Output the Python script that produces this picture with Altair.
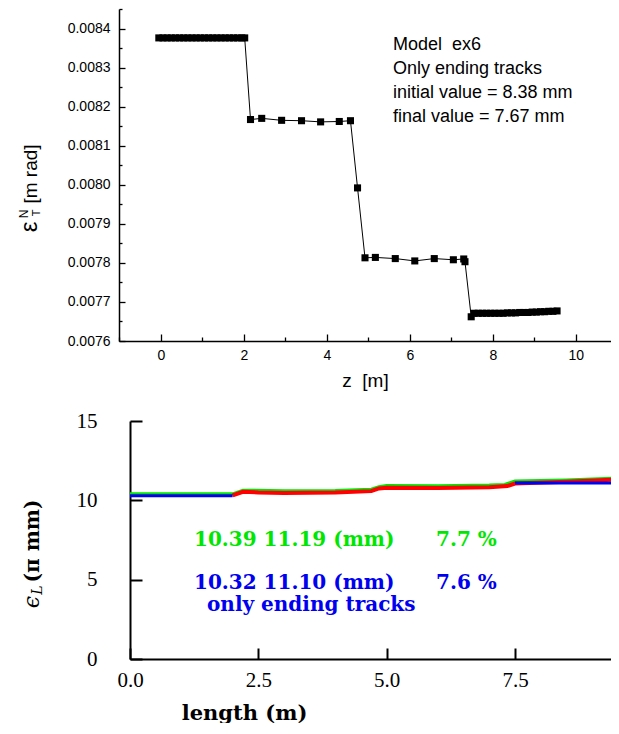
import altair as alt
import pandas as pd

# ---------------- top panel data (z [m], emittance [m rad]) ----------------
top_z = [-0.05, 0.05, 0.15, 0.25, 0.35, 0.45, 0.55, 0.65, 0.75, 0.85, 0.95,
         1.05, 1.15, 1.25, 1.35, 1.45, 1.55, 1.65, 1.75, 1.85, 1.95, 2.02,
         2.16, 2.43, 2.91, 3.39, 3.85, 4.30, 4.57,
         4.74,
         4.92, 5.17, 5.65, 6.12, 6.59, 7.05, 7.30, 7.33,
         7.48,
         7.55, 7.65, 7.75, 7.85, 7.95, 8.05, 8.15, 8.25, 8.35, 8.45, 8.55,
         8.65, 8.75, 8.85, 8.95, 9.05, 9.15, 9.25, 9.35, 9.45, 9.55]
top_eps = [0.008376, 0.008376, 0.008376, 0.008376, 0.008376, 0.008376, 0.008376, 0.008376, 0.008376, 0.008376, 0.008376,
           0.008376, 0.008376, 0.008376, 0.008376, 0.008376, 0.008376, 0.008376, 0.008376, 0.008376, 0.008376, 0.008376,
           0.008167, 0.008170, 0.008165, 0.008164, 0.008161, 0.008162, 0.008164,
           0.007992,
           0.007813, 0.007814, 0.007811, 0.007805, 0.007811, 0.007808, 0.007810, 0.007803,
           0.007662,
           0.007671, 0.007671, 0.007671, 0.007671, 0.007671, 0.007671, 0.007671, 0.007671, 0.007672, 0.007672, 0.007672,
           0.007673, 0.007673, 0.007673, 0.007674, 0.007674, 0.007675, 0.007675, 0.007676, 0.007676, 0.007677]

top_x_major = [0, 2, 4, 6, 8, 10]
top_x_minor = [-1, 1, 3, 5, 7, 9]
top_y_major = [0.0076, 0.0077, 0.0078, 0.0079, 0.0080, 0.0081, 0.0082, 0.0083, 0.0084]
top_y_minor = [0.00765, 0.00775, 0.00785, 0.00795, 0.00805, 0.00815, 0.00825, 0.00835, 0.00845]

top_notes = ["Model\u00a0\u00a0ex6", "Only ending tracks", "initial value = 8.38 mm", "final value = 7.67 mm"]
top_notes_y = [41, 65, 89, 113]

# ---------------- bottom panel data (length [m], eps_L [pi mm]) ----------------
green_len = [0.0, 2.0, 2.2, 2.4, 3.0, 4.0, 4.7, 4.85, 5.0, 6.0, 7.0, 7.3, 7.5, 8.5, 9.5]
green_eps = [10.41, 10.41, 10.64, 10.64, 10.60, 10.62, 10.70, 10.86, 10.94, 10.92, 10.96, 11.00, 11.22, 11.28, 11.40]
red_len = [2.0, 2.2, 2.5, 3.0, 4.0, 4.7, 4.85, 5.0, 6.0, 7.0, 7.35, 7.5, 8.5, 9.5]
red_eps = [10.31, 10.54, 10.50, 10.47, 10.50, 10.58, 10.75, 10.80, 10.77, 10.83, 10.90, 11.06, 11.17, 11.32]
blue_len = [0.0, 2.0, 7.5, 9.5]
blue_eps = [10.29, 10.29, 11.10, 11.10]
blue_seg = [1, 1, 2, 2]

bot_x_ticks = [0, 2.5, 5, 7.5]
bot_y_ticks = [0, 5, 10, 15]

GREEN = "#00e600"
BLUE = "#0000f0"
RED = "#ff0000"

bot_notes = ["10.39 11.19 (mm)", "7.7 %", "10.32 11.10 (mm)", "7.6 %", "only ending tracks"]
bot_notes_x = [75, 317, 75, 317, 88]
bot_notes_y = [125, 125, 168, 168, 190]
bot_notes_c = [GREEN, GREEN, BLUE, BLUE, BLUE]

one = pd.DataFrame({"k": [0]})


def txt(t, x, y, **kw):
    return alt.Chart(one).mark_text(text=t, **kw).encode(x=alt.value(x), y=alt.value(y))


# ---------------- top chart ----------------
top_df = pd.DataFrame({"z": top_z, "eps": top_eps})
xs_top = alt.Scale(domain=[-1.01, 10.85], nice=False, zero=False)
ys_top = alt.Scale(domain=[0.0076, 0.00845], nice=False, zero=False)

SANS = "Liberation Sans"

top_line = alt.Chart(top_df).mark_line(color="black", strokeWidth=1).encode(
    x=alt.X("z:Q", scale=xs_top, axis=alt.Axis(
        orient="bottom", values=top_x_major, tickSize=alt.ExprRef("-7"), tickWidth=1.3,
        labelPadding=14, labelFont=SANS, labelFontSize=14, labelFlush=False,
        domainWidth=1.5, title="z\u00a0\u00a0[m]", titleFont=SANS, titleFontSize=19,
        titleFontWeight="normal", titlePadding=9)),
    y=alt.Y("eps:Q", scale=ys_top, axis=alt.Axis(
        orient="left", values=top_y_major, format=".4f", tickSize=alt.ExprRef("-6"), tickWidth=1.3,
        labelPadding=15, labelFont=SANS, labelFontSize=14, labelFlush=False,
        domainWidth=1.5, title=None)),
)
top_pts = alt.Chart(top_df).mark_square(size=50, color="black", opacity=1).encode(
    x=alt.X("z:Q", scale=xs_top, axis=alt.Axis(
        orient="bottom", values=top_x_minor, tickSize=alt.ExprRef("-4"), tickWidth=1.3,
        labels=False, domain=False, title=None)),
    y=alt.Y("eps:Q", scale=ys_top, axis=alt.Axis(
        orient="left", values=top_y_minor, tickSize=alt.ExprRef("-3"), tickWidth=1.3,
        labels=False, domain=False, title=None)),
)

top_texts = [txt(t, 274, y, font=SANS, fontSize=18, align="left", baseline="alphabetic", color="black")
             for t, y in zip(top_notes, top_notes_y)]
top_title = [
    txt("ε", -89, 218, font=SANS, fontSize=24, angle=270, align="center", baseline="middle"),
    txt("T", -82, 204, font=SANS, fontSize=11, angle=270, align="center", baseline="middle"),
    txt("N", -95, 205, font=SANS, fontSize=12, angle=270, align="center", baseline="middle"),
    txt("[m rad]", -88, 165, font=SANS, fontSize=19, angle=270, align="center", baseline="middle"),
    # invisible spacer that fixes the left margin of the whole figure
    txt("|", -106, 170, font=SANS, fontSize=10, angle=270, align="center", baseline="middle", opacity=0),
]

top = alt.layer(top_line, top_pts, *top_texts, *top_title).resolve_axis(
    x="independent", y="independent").properties(width=492, height=332)

# ---------------- bottom chart ----------------
SERIF = "Liberation Serif"
BSERIF = "DejaVu Serif"
# the y axis sits 11 px right of the top panel's y axis
xs_bot = alt.Scale(domain=[0, 9.37], range=[11, 492], nice=False, zero=False)
ys_bot = alt.Scale(domain=[0, 15], nice=False)

bx = alt.X("len:Q", scale=xs_bot, axis=alt.Axis(
    values=bot_x_ticks, format=".1f", tickSize=alt.ExprRef("-11"), tickWidth=2,
    labelPadding=21, labelFont=SERIF, labelFontSize=21, labelFlush=False,
    domainWidth=2, title="length (m)", titleFont=BSERIF, titleFontWeight="bold",
    titleFontSize=21, titleX=125, titlePadding=12))
by = alt.Y("eps:Q", scale=ys_bot, axis=alt.Axis(
    values=bot_y_ticks, tickSize=alt.ExprRef("-12"), tickWidth=2, offset=-11,
    labelPadding=45, labelFont=SERIF, labelFontSize=21, labelFlush=False,
    domainWidth=2, title=None))

g_df = pd.DataFrame({"len": green_len, "eps": green_eps})
r_df = pd.DataFrame({"len": red_len, "eps": red_eps})
b_df = pd.DataFrame({"len": blue_len, "eps": blue_eps, "seg": blue_seg})

g_line = alt.Chart(g_df).mark_line(color=GREEN, strokeWidth=3, clip=True).encode(x=bx, y=by)
r_line = alt.Chart(r_df).mark_line(color=RED, strokeWidth=4, clip=True).encode(x=bx, y=by)
b_line = alt.Chart(b_df).mark_line(color=BLUE, strokeWidth=3, clip=True).encode(x=bx, y=by, detail="seg:N")

bot_texts = [txt(t, x, y, font=BSERIF, fontWeight="bold", fontSize=20, align="left",
                 baseline="alphabetic", color=c)
             for t, x, y, c in zip(bot_notes, bot_notes_x, bot_notes_y, bot_notes_c)]
bot_title = [
    txt("ϵ", -87, 181, font=BSERIF, fontStyle="italic", fontSize=22, angle=270, align="center", baseline="middle"),
    txt("L", -81, 169, font=BSERIF, fontStyle="italic", fontSize=14, angle=270, align="center", baseline="middle"),
    txt("(π mm)", -86, 120, font=BSERIF, fontWeight="bold", fontSize=20, angle=270, align="center", baseline="middle"),
]

bottom = alt.layer(g_line, r_line, b_line, *bot_texts, *bot_title).properties(width=492, height=238)

chart = alt.vconcat(top, bottom, spacing=20).properties(
    padding=0,
    background="white"
).configure_view(stroke=None).configure_axis(
    grid=False, domainColor="black", tickColor="black", labelColor="black", titleColor="black",
    labelOverlap=False
)

chart.save("out.html", embed_options={"renderer": "svg", "actions": False})
